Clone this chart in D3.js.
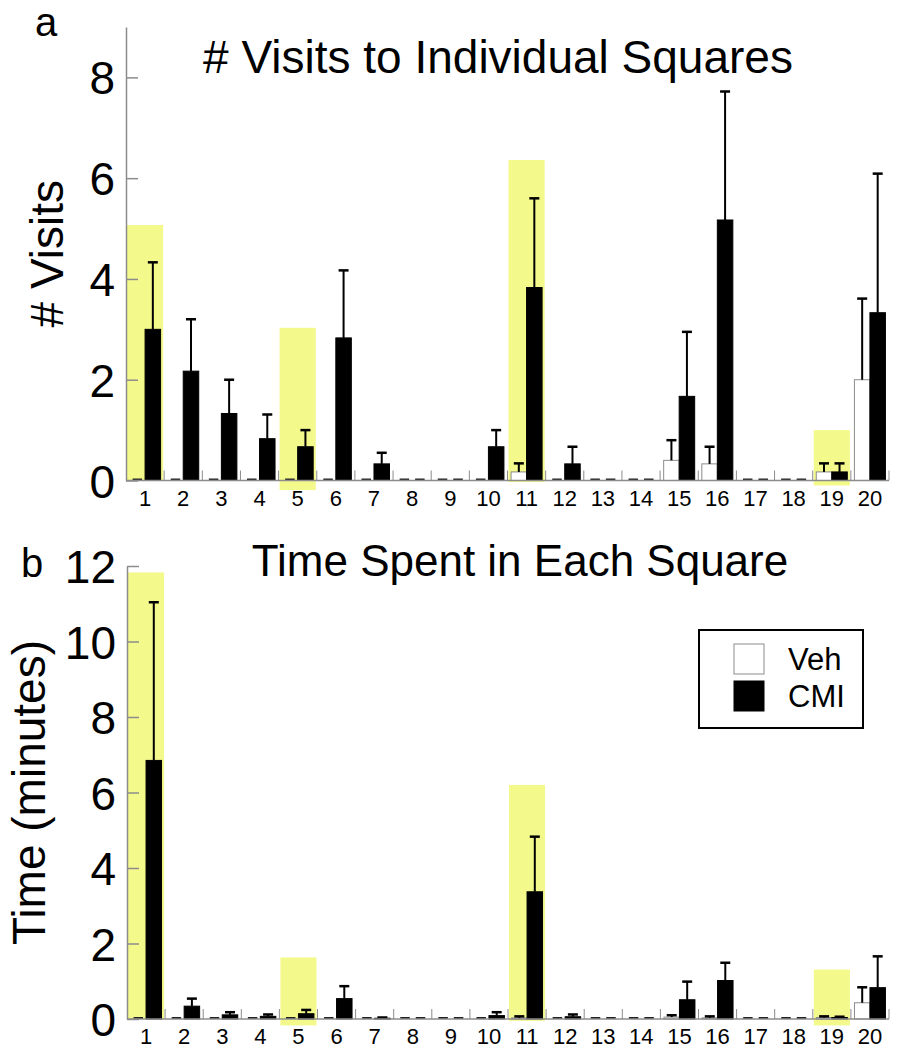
<!DOCTYPE html>
<html>
<head>
<meta charset="utf-8">
<script src="https://cdn.jsdelivr.net/npm/d3@7"></script>
<style>
  body { margin: 0; background: #fff; }
  svg { display: block; font-family: "Liberation Sans", Arial, sans-serif; }
</style>
</head>
<body>
<svg id="chart" width="897" height="1050"></svg>
<script>
// squares 1..20
const squares = ["1","2","3","4","5","6","7","8","9","10","11","12","13","14","15","16","17","18","19","20"];
const groups = ["Veh", "CMI"];

// panel a: number of visits (mean and SEM)
const visitsVeh    = [0, 0, 0, 0, 0, 0, 0, 0, 0, 0, 0.17, 0, 0, 0, 0.4, 0.33, 0, 0, 0.17, 2.0];
const visitsVehSem = [0, 0, 0, 0, 0, 0, 0, 0, 0, 0, 0.17, 0, 0, 0, 0.4, 0.34, 0, 0, 0.17, 1.61];
const visitsCmi    = [3.0, 2.17, 1.33, 0.83, 0.67, 2.83, 0.33, 0, 0, 0.67, 3.83, 0.33, 0, 0, 1.67, 5.17, 0, 0, 0.17, 3.33];
const visitsCmiSem = [1.33, 1.03, 0.67, 0.48, 0.33, 1.34, 0.22, 0, 0, 0.33, 1.77, 0.34, 0, 0, 1.28, 2.55, 0, 0, 0.17, 2.76];
const visitsTicks  = [0, 2, 4, 6, 8];
// highlighted squares: square, top, bottom
const visitsMarkSq  = ["1", "5", "11", "19"];
const visitsMarkTop = [5.07, 3.03, 6.36, 1.0];
const visitsMarkBot = [0, -0.19, -0.03, -0.1];

// panel b: time spent (minutes)
const timeVeh    = [0, 0, 0, 0, 0, 0, 0, 0, 0, 0, 0.03, 0, 0, 0, 0.05, 0.03, 0, 0, 0.04, 0.43];
const timeVehSem = [0, 0, 0, 0, 0, 0, 0, 0, 0, 0, 0.04, 0, 0, 0, 0.05, 0.04, 0, 0, 0.03, 0.41];
const timeCmi    = [6.85, 0.34, 0.11, 0.07, 0.14, 0.54, 0.02, 0, 0, 0.09, 3.37, 0.06, 0, 0, 0.51, 1.02, 0, 0, 0.04, 0.83];
const timeCmiSem = [4.19, 0.2, 0.07, 0.05, 0.1, 0.33, 0.02, 0, 0, 0.09, 1.46, 0.06, 0, 0, 0.48, 0.47, 0, 0, 0.02, 0.83];
const timeTicks  = [0, 2, 4, 6, 8, 10, 12];
const timeMarkSq  = ["1", "5", "11", "19"];
const timeMarkTop = [11.83, 1.63, 6.2, 1.31];
const timeMarkBot = [0, -0.17, -0.05, -0.17];

const svg = d3.select("#chart");
const axisGray = "#8c8c8c";
const markYellow = "#f4f98c";

function drawPanel(opts) {
  let x = d3.scaleBand().domain(squares).range([opts.left, opts.right]);
  let xg = d3.scaleBand().domain(groups).range([0, x.bandwidth()]).paddingOuter(0.23);
  let y = d3.scaleLinear().domain(opts.domain).range([opts.bottom, opts.top]);
  let bw = xg.bandwidth();

  let g = svg.append("g");

  // yellow highlight boxes behind the bars
  g.selectAll(".mark")
    .data(opts.markSq.map((s, i) => ({sq: s, top: opts.markTop[i], bot: opts.markBot[i]})))
    .enter().append("rect")
    .attr("x", d => x(d.sq) + 1)
    .attr("width", x.bandwidth() - 2)
    .attr("y", d => y(d.top))
    .attr("height", d => y(d.bot) - y(d.top))
    .style("fill", markYellow);

  let rows = [];
  squares.forEach((s, i) => {
    rows.push({sq: s, grp: "Veh", v: opts.veh[i], e: opts.vehSem[i]});
    rows.push({sq: s, grp: "CMI", v: opts.cmi[i], e: opts.cmiSem[i]});
  });

  // bars (non zero)
  g.selectAll(".bar")
    .data(rows.filter(d => d.v > 0))
    .enter().append("rect")
    .attr("x", d => x(d.sq) + xg(d.grp))
    .attr("width", bw)
    .attr("y", d => y(d.v))
    .attr("height", d => y(0) - y(d.v))
    .style("fill", d => d.grp == "Veh" ? "#fff" : "#000")
    .style("stroke", d => d.grp == "Veh" ? axisGray : "#000")
    .style("stroke-width", 1);

  // zero values show up as a short dash on the baseline
  g.selectAll(".zero")
    .data(rows.filter(d => d.v == 0))
    .enter().append("line")
    .attr("x1", d => x(d.sq) + xg(d.grp) + 3)
    .attr("x2", d => x(d.sq) + xg(d.grp) + bw - 3)
    .attr("y1", y(0) - 1)
    .attr("y2", y(0) - 1)
    .style("stroke", "#222")
    .style("stroke-width", 2);

  // error bars, upper half only
  let err = g.selectAll(".err")
    .data(rows.filter(d => d.e > 0))
    .enter().append("g");
  err.append("line")
    .attr("x1", d => x(d.sq) + xg(d.grp) + bw / 2)
    .attr("x2", d => x(d.sq) + xg(d.grp) + bw / 2)
    .attr("y1", d => y(d.v))
    .attr("y2", d => y(d.v + d.e))
    .style("stroke", "#000")
    .style("stroke-width", 2);
  err.append("line")
    .attr("x1", d => x(d.sq) + xg(d.grp) + bw / 2 - 5)
    .attr("x2", d => x(d.sq) + xg(d.grp) + bw / 2 + 5)
    .attr("y1", d => y(d.v + d.e))
    .attr("y2", d => y(d.v + d.e))
    .style("stroke", "#000")
    .style("stroke-width", 2.5);

  // x axis: baseline with small upward ticks at square boundaries
  g.append("line")
    .attr("x1", opts.left).attr("x2", opts.right)
    .attr("y1", y(0)).attr("y2", y(0))
    .style("stroke", axisGray).style("stroke-width", 1.5);
  g.selectAll(".xtick")
    .data(squares.slice(1).map(s => x(s)).concat([opts.right]))
    .enter().append("line")
    .attr("x1", d => d).attr("x2", d => d)
    .attr("y1", y(0)).attr("y2", y(0) - 10)
    .style("stroke", axisGray).style("stroke-width", 1);
  g.selectAll(".xlabel")
    .data(squares)
    .enter().append("text")
    .attr("x", d => x(d) + x.bandwidth() / 2)
    .attr("y", y(0) + 25)
    .attr("text-anchor", "middle")
    .style("font-size", "22px")
    .text(d => d);

  // y axis, ticks point inward
  let yAxis = g.append("g")
    .attr("transform", "translate(" + opts.left + ",0)")
    .call(d3.axisLeft(y).tickValues(opts.ticks).tickSizeInner(-12).tickSizeOuter(0).tickPadding(11));
  yAxis.select(".domain").style("stroke", axisGray).style("stroke-width", 1.5);
  yAxis.selectAll(".tick line").style("stroke", axisGray).style("stroke-width", 1.5);
  yAxis.selectAll(".tick text")
    .style("font-size", "46px")
    .style("font-family", "Liberation Sans, Arial, sans-serif")
    .attr("dy", "0.36em")
    .attr("fill", "#000");

  // title, axis label and panel letter
  g.append("text")
    .attr("x", opts.titleX).attr("y", opts.titleY)
    .attr("text-anchor", "middle")
    .style("font-size", opts.titleSize)
    .text(opts.title);
  g.append("text")
    .attr("transform", "translate(" + opts.labelX + "," + (opts.top + opts.bottom) / 2 + ") rotate(-90)")
    .attr("text-anchor", "middle")
    .style("font-size", "46px")
    .text(opts.yLabel);
  g.append("text")
    .attr("x", opts.letterX).attr("y", opts.letterY)
    .style("font-size", "40px")
    .text(opts.letter);

  return g;
}

drawPanel({
  left: 126, right: 889, top: 27, bottom: 480.5, domain: [0, 9], ticks: visitsTicks,
  veh: visitsVeh, vehSem: visitsVehSem, cmi: visitsCmi, cmiSem: visitsCmiSem,
  markSq: visitsMarkSq, markTop: visitsMarkTop, markBot: visitsMarkBot,
  title: "# Visits to Individual Squares", titleX: 498, titleY: 73, titleSize: "46px",
  yLabel: "# Visits", labelX: 63,
  letter: "a", letterX: 35, letterY: 36
});

drawPanel({
  left: 127, right: 889, top: 566, bottom: 1019, domain: [0, 12], ticks: timeTicks,
  veh: timeVeh, vehSem: timeVehSem, cmi: timeCmi, cmiSem: timeCmiSem,
  markSq: timeMarkSq, markTop: timeMarkTop, markBot: timeMarkBot,
  title: "Time Spent in Each Square", titleX: 520, titleY: 576, titleSize: "44px",
  yLabel: "Time (minutes)", labelX: 45,
  letter: "b", letterX: 21, letterY: 577
});

// legend
let legend = svg.append("g");
legend.append("rect")
  .attr("x", 699).attr("y", 630).attr("width", 164).attr("height", 98)
  .style("fill", "#fff").style("stroke", "#000").style("stroke-width", 2);
let legendRows = legend.selectAll(".leg")
  .data(groups)
  .enter().append("g")
  .attr("transform", (d, i) => "translate(734," + (644 + i * 37) + ")");
legendRows.append("rect")
  .attr("width", 30).attr("height", 30)
  .style("fill", d => d == "Veh" ? "#fff" : "#000")
  .style("stroke", d => d == "Veh" ? axisGray : "#000");
legendRows.append("text")
  .attr("x", 54).attr("y", 26)
  .style("font-size", "31px")
  .text(d => d);
</script>
</body>
</html>
